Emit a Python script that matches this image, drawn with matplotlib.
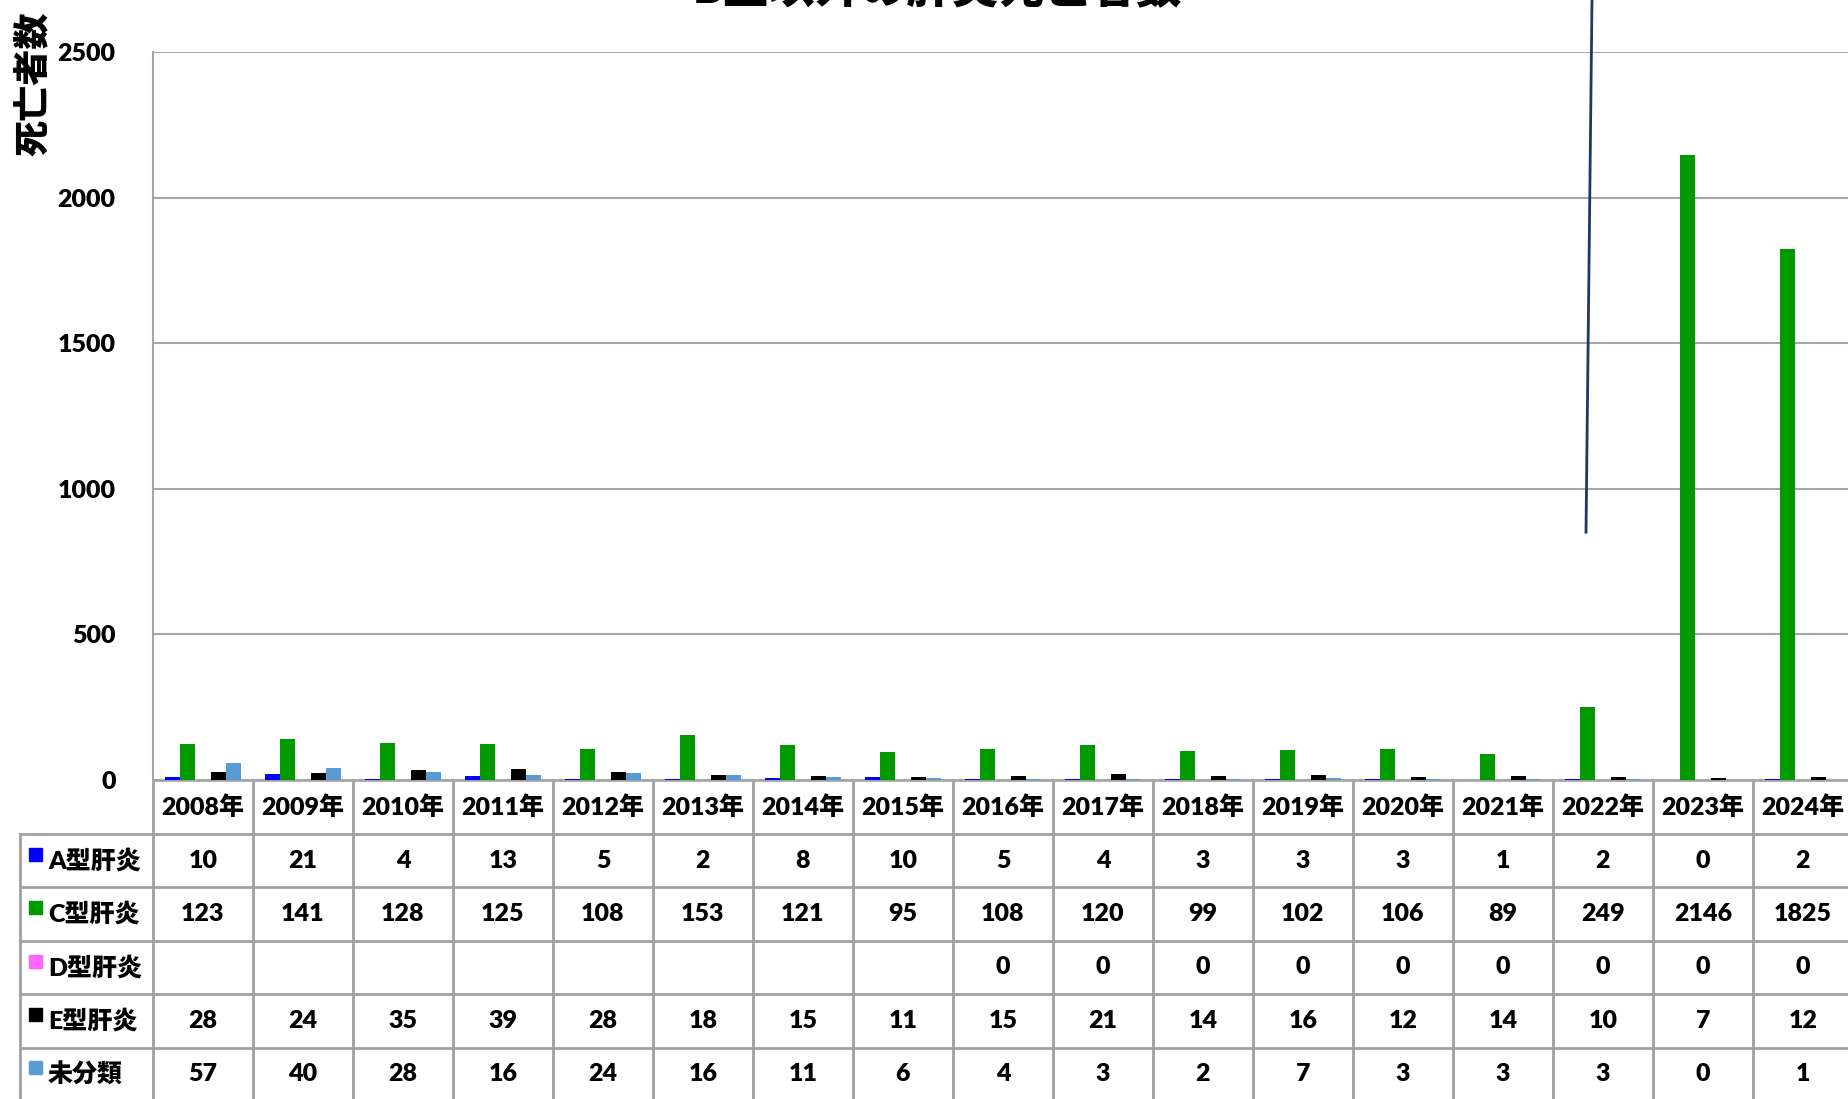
import numpy as np
import matplotlib
matplotlib.use('Agg')
import matplotlib.pyplot as plt
from matplotlib.patches import Rectangle
from matplotlib.transforms import blended_transform_factory

plt.rcParams['font.family'] = ['Lato', 'Noto Sans CJK JP', 'DejaVu Sans']
plt.rcParams['font.weight'] = 'heavy'
FW = 'heavy'

# data
years = ['2008年', '2009年', '2010年', '2011年', '2012年', '2013年', '2014年', '2015年', '2016年',
         '2017年', '2018年', '2019年', '2020年', '2021年', '2022年', '2023年', '2024年']
series_names = ['A型肝炎', 'C型肝炎', 'D型肝炎', 'E型肝炎', '未分類']
hep_a = [10, 21, 4, 13, 5, 2, 8, 10, 5, 4, 3, 3, 3, 1, 2, 0, 2]
hep_c = [123, 141, 128, 125, 108, 153, 121, 95, 108, 120, 99, 102, 106, 89, 249, 2146, 1825]
hep_d = [None] * 8 + [0, 0, 0, 0, 0, 0, 0, 0, 0]
hep_e = [28, 24, 35, 39, 28, 18, 15, 11, 15, 21, 14, 16, 12, 14, 10, 7, 12]
unclassified = [57, 40, 28, 16, 24, 16, 11, 6, 4, 3, 2, 7, 3, 3, 3, 0, 1]
colors = ['#0000FF', '#009900', '#FF66FF', '#000000', '#5B9BD5']

# stray line drawn on the chart (x in category units, y in deaths)
stray_x = [13.83, 13.89]
stray_y = [851, 2680]

all_series = [hep_a, hep_c, hep_d, hep_e, unclassified]

W, H = 1849, 1099
fig = plt.figure(figsize=(W / 100, H / 100), dpi=100)

def fy(py):
    return 1 - py / H

ax = fig.add_axes([153 / W, fy(780), 1700 / W, (780 - 52) / H])
x = np.arange(len(years))
bw = 1 / 6.5
for i, (vals, c) in enumerate(zip(all_series, colors)):
    v = np.array([np.nan if a is None else a for a in vals], dtype=float)
    ax.bar(x + (i - 2) * bw, v, width=bw, color=c, zorder=3)

ax.set_xlim(-0.5, len(years) - 0.5)
ax.set_ylim(0, 2500)
ax.set_yticks([0, 500, 1000, 1500, 2000, 2500])
ax.tick_params(axis='y', length=0, labelsize=18, pad=27)
for lab in ax.get_yticklabels():
    lab.set_fontweight(FW)
ax.set_xticks([])
ax.yaxis.grid(True, color='#A6A6A6', lw=1.5, zorder=0)
for s in ['top', 'right']:
    ax.spines[s].set_visible(False)
ax.spines['left'].set_color('#A6A6A6')
ax.spines['left'].set_linewidth(1.5)
ax.spines['bottom'].set_color('#A6A6A6')
ax.spines['bottom'].set_linewidth(2)

ax.plot(stray_x, stray_y, color='#1F3864', lw=2, clip_on=False, zorder=5)

# table under the chart
tr = blended_transform_factory(ax.transData, fig.transFigure)
line_c = '#A0A0A0'
header_top, header_bot = 780, 834
row_h = 53.4
row_edges = [header_bot + row_h * k for k in range(6)]

for k in range(len(years) + 1):
    ax.plot([k - 0.5, k - 0.5], [fy(header_top), fy(H + 5)], transform=tr,
            color=line_c, lw=2, clip_on=False)
fig.add_artist(plt.Line2D([20 / W, 20 / W], [fy(header_bot), fy(H + 5)], color=line_c, lw=2))
for yp in row_edges[:-1]:
    fig.add_artist(plt.Line2D([20 / W, 1], [fy(yp), fy(yp)], color=line_c, lw=2))

for j, yr in enumerate(years):
    ax.text(j, fy((header_top + header_bot) / 2), yr, transform=tr, ha='center', va='center',
            fontsize=18, fontweight=FW, clip_on=False)

for r, (name, vals, c) in enumerate(zip(series_names, all_series, colors)):
    yc = (row_edges[r] + row_edges[r + 1]) / 2
    fig.add_artist(Rectangle((29 / W, fy(yc)), 13 / W, 13 / H, transform=fig.transFigure,
                             color=c))
    fig.text(48 / W, fy(yc), name, ha='left', va='center', fontsize=18, fontweight=FW)
    for j, v in enumerate(vals):
        if v is None:
            continue
        ax.text(j, fy(yc), str(v), transform=tr, ha='center', va='center',
                fontsize=18, fontweight=FW, clip_on=False)

fig.text(937 / W, fy(-12), 'B型以外の肝炎死亡者数', ha='center', va='center',
         fontsize=33, fontweight=FW)
fig.text(33 / W, fy(84), '死亡者数', rotation=90, ha='center', va='center',
         fontsize=26, fontweight=FW)

fig.savefig('out.png', dpi=100)
